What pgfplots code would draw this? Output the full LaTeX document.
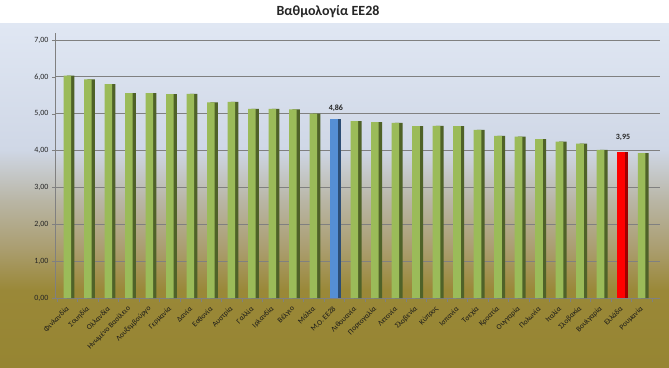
\documentclass[border=0pt]{standalone}
\usepackage{pgfplots}
\pgfplotsset{compat=1.18}
\usepackage{fontspec}
\setmainfont{Carlito}
\definecolor{bgA}{HTML}{E0E7F3}
\definecolor{bgB}{HTML}{CFD7E6}
\definecolor{bgC}{HTML}{B9B6A6}
\definecolor{bgD}{HTML}{AA9D6E}
\definecolor{bgE}{HTML}{9A8838}
\definecolor{bgF}{HTML}{968532}
\definecolor{gfront}{HTML}{9BBB59}
\definecolor{gside}{HTML}{4F6228}
\definecolor{bfront}{HTML}{558ED5}
\definecolor{bside}{HTML}{2C4D75}
\definecolor{rfront}{HTML}{FF0000}
\definecolor{rside}{HTML}{A00000}
\definecolor{gridc}{HTML}{808080}
\begin{document}
\begin{tikzpicture}
\useasboundingbox (0pt,0pt) rectangle (669pt,367pt);
\fill[white] (0pt,0pt) rectangle (669pt,367pt);
\shade[bottom color=bgF, top color=bgE] (0pt,0pt) rectangle (669pt,77.5pt);
\shade[bottom color=bgE, top color=bgD] (0pt,77pt) rectangle (669pt,117.5pt);
\shade[bottom color=bgD, top color=bgC] (0pt,117pt) rectangle (669pt,167.5pt);
\shade[bottom color=bgC, top color=bgB] (0pt,167pt) rectangle (669pt,217.5pt);
\shade[bottom color=bgB, top color=bgA] (0pt,217pt) rectangle (669pt,343pt);
\node[font=\bfseries\fontsize{14}{16}\selectfont, text=black!85] at (328pt,355pt) {Βαθμολογία ΕΕ28};
\begin{axis}[
  at={(55pt,69pt)}, anchor=south west,
  scale only axis, width=605pt, height=265.4pt,
  xmin=-0.6, xmax=28.9, ymin=0, ymax=7.2,
  axis x line*=bottom, axis y line*=left,
  axis line style={draw=gridc, line width=0.6pt, -},
  ytick={0,1,2,3,4,5,6,7},
  ymajorgrids, grid style={draw=gridc, line width=0.7pt},
  yticklabel style={font=\fontsize{8}{9}\selectfont, text=black!85,
    /pgf/number format/.cd, fixed, fixed zerofill, precision=2, use comma, assume math mode=true},
  ytick style={draw=gridc}, tick align=outside, major tick length=3pt,
  xtick={0,...,28},
  xtick style={draw=none},
  minor xtick={-0.5,0.5,...,28.5},
  minor tick length=4pt,
  minor x tick style={draw=gridc},
  xticklabels={Φινλανδία,Σουηδία,Ολλανδία,Ηνωμένο Βασίλειο,Λουξεμβούργο,Γερμανία,Δανία,Εσθονία,Αυστρία,Γαλλία,Ιρλανδία,Βέλγιο,Μάλτα,{Μ.Ο. ΕΕ28},Λιθουανία,Πορτογαλία,Λετονία,Σλοβενία,Κύπρος,Ισπανία,Τσεχία,Κροατία,Ουγγαρία,Πολωνία,Ιταλία,Σλοβακία,Βουλγαρία,Ελλάδα,Ρουμανία},
  xticklabel style={rotate=45, anchor=east, font=\fontsize{7.5}{9}\selectfont, text=black!90, xshift=-1pt, yshift=-5pt},
  clip=false,
]
% green bars: side then front
\addplot[ybar, bar width=0.37, bar shift=0.16, fill=gside, draw=none] coordinates {
(0,6.03) (1,5.93) (2,5.80) (3,5.56) (4,5.56) (5,5.53) (6,5.54) (7,5.31) (8,5.32) (9,5.13) (10,5.13) (11,5.12) (12,5.00)
(14,4.80) (15,4.77) (16,4.75) (17,4.66) (18,4.67) (19,4.66) (20,4.56) (21,4.40) (22,4.38) (23,4.31) (24,4.24) (25,4.19) (26,4.02) (28,3.93)};
\addplot[ybar, bar width=0.37, bar shift=0, fill=gfront, draw=none] coordinates {
(0,6.03) (1,5.93) (2,5.80) (3,5.56) (4,5.56) (5,5.53) (6,5.54) (7,5.31) (8,5.32) (9,5.13) (10,5.13) (11,5.12) (12,5.00)
(14,4.80) (15,4.77) (16,4.75) (17,4.66) (18,4.67) (19,4.66) (20,4.56) (21,4.40) (22,4.38) (23,4.31) (24,4.24) (25,4.19) (26,4.02) (28,3.93)};
% EU average
\addplot[ybar, bar width=0.37, bar shift=0.16, fill=bside, draw=none] coordinates {(13,4.86)};
\addplot[ybar, bar width=0.37, bar shift=0, fill=bfront, draw=none,
  nodes near coords, nodes near coords style={font=\bfseries\fontsize{8}{9}\selectfont, text=black!85, yshift=4pt, xshift=2pt,
    /pgf/number format/.cd, fixed, fixed zerofill, precision=2, use comma, assume math mode=true}] coordinates {(13,4.86)};
% Greece
\addplot[ybar, bar width=0.37, bar shift=0.16, fill=rside, draw=none] coordinates {(27,3.95)};
\addplot[ybar, bar width=0.37, bar shift=0, fill=rfront, draw=none,
  nodes near coords, nodes near coords style={font=\bfseries\fontsize{8}{9}\selectfont, text=black!85, yshift=8pt, xshift=2pt,
    /pgf/number format/.cd, fixed, fixed zerofill, precision=2, use comma, assume math mode=true}] coordinates {(27,3.95)};
\end{axis}
\end{tikzpicture}
\end{document}
